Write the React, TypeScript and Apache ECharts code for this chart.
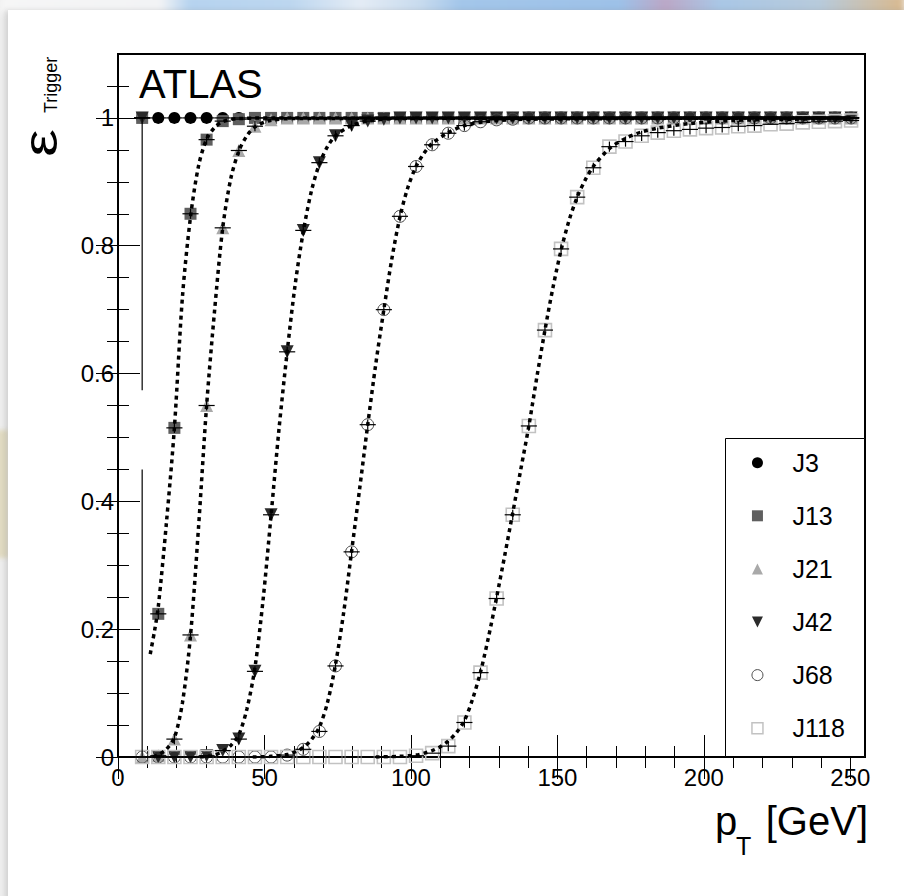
import React, { useEffect, useRef } from "react";
import * as echarts from "echarts";

const FONT = "'Liberation Sans', Arial, Helvetica, sans-serif";

// pT bin centres [GeV]
const binCenters = [
  8.25, 13.75, 19.25, 24.75, 30.25, 35.75, 41.25, 46.75, 52.25, 57.75,
  63.25, 68.75, 74.25, 79.75, 85.25, 90.75, 96.25, 101.75, 107.25, 112.75,
  118.25, 123.75, 129.25, 134.75, 140.25, 145.75, 151.25, 156.75, 162.25, 167.75,
  173.25, 178.75, 184.25, 189.75, 195.25, 200.75, 206.25, 211.75, 217.25, 222.75,
  228.25, 233.75, 239.25, 244.75, 250.25,
];

// trigger efficiency per bin
const effJ3 = [
  1, 1, 1, 1, 1, 1, 1, 1, 1, 1, 1, 1, 1, 1, 1, 1, 1, 1, 1, 1, 1, 1, 1,
  1, 1, 1, 1, 1, 1, 1, 1, 1, 1, 1, 1, 1, 1, 1, 1, 1, 1, 1, 1, 1, 1,
];
const effJ13 = [
  1, 0.224, 0.515, 0.85, 0.966, 0.995, 0.998, 1, 1, 1, 1, 1, 1, 1, 1, 1, 1, 1, 1, 1, 1, 1, 1,
  1, 1, 1, 1, 1, 1, 1, 1, 1, 1, 1, 1, 1, 1, 1, 1, 1, 1, 1, 1, 1, 1,
];
const effJ21 = [
  0, 0.002, 0.028, 0.191, 0.55, 0.828, 0.949, 0.987, 0.997, 1, 1, 1, 1, 1, 1, 1, 1, 1, 1, 1, 1, 1, 1,
  1, 1, 1, 1, 1, 1, 1, 1, 1, 1, 1, 1, 1, 1, 1, 1, 1, 1, 1, 1, 1, 1,
];
const effJ42 = [
  1, 0, 0, 0, 0.002, 0.01, 0.028, 0.134, 0.379, 0.634, 0.824, 0.93, 0.972, 0.988, 0.995, 0.998,
  1, 1, 1, 1, 1, 1, 1, 1, 1, 1, 1, 1, 1, 1, 1, 1, 1, 1, 1, 1, 1, 1, 1, 1, 1, 1, 1, 1, 1,
];
const effJ68 = [
  0, 0, 0, 0, 0, 0, 0, 0, 0, 0.003, 0.012, 0.04, 0.1425, 0.321, 0.52, 0.7, 0.846, 0.924, 0.958,
  0.976, 0.988, 0.994, 0.997, 0.998, 1, 1, 1, 1, 1, 1, 1, 1, 1, 1, 1, 1, 1, 1, 1, 1, 1, 1, 1, 1, 1,
];
const effJ118 = [
  0, 0, 0, 0, 0, 0, 0, 0, 0, 0, 0, 0, 0, 0, 0, 0, 0, 0.002, 0.006, 0.017, 0.054, 0.132, 0.248,
  0.379, 0.518, 0.668, 0.795, 0.876, 0.922, 0.955, 0.963, 0.972, 0.977, 0.98, 0.982, 0.984,
  0.985, 0.987, 0.988, 0.99, 0.991, 0.993, 0.994, 0.995, 0.996,
];

// fitted turn-on curves [pT, efficiency]
const fitJ13 = [
  [11, 0.161], [12.5, 0.198], [13.75, 0.235], [16.5, 0.365], [19.25, 0.515], [22, 0.72],
  [24.75, 0.845], [27.5, 0.925], [30.25, 0.967], [33, 0.985], [35.75, 0.994], [41, 0.999],
  [60, 1], [250, 1],
];
const fitJ21 = [
  [12, 0], [14, 0.004], [16.5, 0.012], [19.25, 0.03], [22, 0.085], [24.75, 0.19], [27.5, 0.36],
  [30.25, 0.55], [33, 0.7], [35.75, 0.828], [38.5, 0.905], [41.25, 0.948], [44, 0.972],
  [46.75, 0.986], [52, 0.996], [60, 0.999], [250, 1],
];
const fitJ42 = [
  [28, 0], [33, 0.003], [35.75, 0.009], [38.5, 0.018], [41.25, 0.035], [44, 0.075],
  [46.75, 0.14], [49.5, 0.245], [52.25, 0.378], [55, 0.515], [57.75, 0.634], [60.5, 0.74],
  [63.25, 0.822], [66, 0.885], [68.75, 0.928], [71.5, 0.955], [74.25, 0.972], [79.75, 0.988],
  [85.25, 0.995], [95, 0.999], [250, 1],
];
const fitJ68 = [
  [46, 0], [52, 0.001], [57.75, 0.004], [60.5, 0.008], [63.25, 0.015], [66, 0.027],
  [68.75, 0.047], [71.5, 0.085], [74.25, 0.145], [77, 0.225], [79.75, 0.322], [82.5, 0.42],
  [85.25, 0.52], [88, 0.615], [90.75, 0.7], [93.5, 0.78], [96.25, 0.845], [99, 0.892],
  [101.75, 0.924], [104.5, 0.945], [107.25, 0.96], [112.75, 0.977], [118.25, 0.988],
  [125, 0.994], [140, 0.998], [250, 1],
];
const fitJ118 = [
  [88, 0], [96, 0.001], [101.75, 0.003], [104.5, 0.006], [107.25, 0.01], [110, 0.016],
  [112.75, 0.025], [115.5, 0.038], [118.25, 0.057], [121, 0.09], [123.75, 0.133],
  [126.5, 0.188], [129.25, 0.25], [132, 0.315], [134.75, 0.382], [137.5, 0.45],
  [140.25, 0.518], [143, 0.595], [145.75, 0.668], [148.5, 0.735], [151.25, 0.793],
  [154, 0.84], [156.75, 0.876], [159.5, 0.903], [162.25, 0.924], [167.75, 0.952],
  [173.25, 0.968], [178.75, 0.978], [184.25, 0.984], [195, 0.991], [210, 0.996],
  [230, 0.998], [250, 0.999],
];

// low-statistics first bins with large uncertainties
const wideErrorBars = [
  { series: "J13", bin: 0, low: 0.574, high: 1.0 },
  { series: "J21", bin: 0, low: 0.0, high: 0.45 },
];

// axis ticks
const xMajorTicks = [0, 50, 100, 150, 200, 250];
const xMinorTicks = [
  10, 20, 30, 40, 60, 70, 80, 90, 110, 120, 130, 140, 160, 170, 180, 190, 210, 220, 230, 240,
];
const yMajorTicks = [0, 0.2, 0.4, 0.6, 0.8, 1];
const yMinorTicks = [
  0.05, 0.1, 0.15, 0.25, 0.3, 0.35, 0.45, 0.5, 0.55, 0.65, 0.7, 0.75, 0.85, 0.9, 0.95, 1.05,
];

const X_MIN = 0;
const X_MAX = 255;
const Y_MIN = 0;
const Y_MAX = 1.1;
const HALF_BIN = 2.75;
const STAT_ERR = 0.008;

// marker outlines; drawn as paths so the legend keeps their aspect ratio
const SQUARE = "path://M0,0L10,0L10,10L0,10Z";
const UP_TRIANGLE = "path://M5,0L10,10L0,10Z";
const DOWN_TRIANGLE = "path://M0,0L10,0L5,10Z";
const CLEAR = "rgba(255,255,255,0)";

const samples = [
  { name: "J3", eff: effJ3, fit: null, symbol: "circle", size: 12, fill: "#000000", border: null, bw: 0 },
  { name: "J13", eff: effJ13, fit: fitJ13, symbol: SQUARE, size: 12, fill: "#5f5f5f", border: null, bw: 0 },
  { name: "J21", eff: effJ21, fit: fitJ21, symbol: UP_TRIANGLE, size: 13, fill: "#a9a9a9", border: null, bw: 0 },
  { name: "J42", eff: effJ42, fit: fitJ42, symbol: DOWN_TRIANGLE, size: 13, fill: "#2b2b2b", border: null, bw: 0 },
  { name: "J68", eff: effJ68, fit: fitJ68, symbol: "circle", size: 12, fill: CLEAR, border: "#4a4a4a", bw: 1 },
  { name: "J118", eff: effJ118, fit: fitJ118, symbol: SQUARE, size: 13, fill: CLEAR, border: "#c2c2c2", bw: 1.6 },
];

function tickAxis(dim: "x" | "y", position: string, ticks: number[], length: number, labels: number[] | null) {
  const isX = dim === "x";
  return {
    type: "value",
    position,
    min: isX ? X_MIN : Y_MIN,
    max: isX ? X_MAX : Y_MAX,
    interval: isX ? 50 : 0.2,
    axisLine: { show: false },
    splitLine: { show: false },
    axisTick: {
      show: true,
      inside: true,
      length,
      customValues: ticks,
      lineStyle: { color: "#000", width: 1 },
    },
    axisLabel: labels
      ? {
          show: true,
          customValues: labels,
          margin: isX ? 8 : 4,
          color: "#000",
          fontSize: 24,
          fontFamily: FONT,
          formatter: (v: number) => String(v),
        }
      : { show: false },
  };
}

function buildOption() {
  const errorRows: number[][] = [];
  samples.forEach((s) => {
    s.eff.forEach((y, i) => {
      const e = y > 0.01 && y < 0.99 ? STAT_ERR : 0;
      let lo = y - e;
      let hi = Math.min(1, y + e);
      wideErrorBars.forEach((w) => {
        if (w.series === s.name && w.bin === i) {
          lo = w.low;
          hi = w.high;
        }
      });
      errorRows.push([binCenters[i], y, lo, hi]);
    });
  });

  const scatterSeries = samples.map((s) => ({
    name: s.name,
    type: "scatter",
    data: binCenters.map((x, i) => [x, s.eff[i]]),
    symbol: s.symbol,
    symbolSize: s.size,
    itemStyle: {
      color: s.fill,
      borderColor: s.border || s.fill,
      borderWidth: s.bw,
      opacity: 1,
    },
    emphasis: { disabled: true },
    z: 2,
  }));

  const fitSeries = samples
    .filter((s) => s.fit)
    .map((s) => ({
      name: s.name + " fit",
      type: "line",
      data: s.fit,
      showSymbol: false,
      smooth: 0.3,
      lineStyle: { color: "#000", width: 3.5, type: [4, 4] },
      emphasis: { disabled: true },
      z: 4,
    }));

  const errorSeries = {
    name: "errors",
    type: "custom",
    data: errorRows,
    encode: { x: 0, y: 1 },
    z: 3,
    renderItem: (_params: any, api: any) => {
      const x = api.value(0);
      const y = api.value(1);
      const lo = api.value(2);
      const hi = api.value(3);
      const a = api.coord([x - HALF_BIN, y]);
      const b = api.coord([x + HALF_BIN, y]);
      const style = { stroke: "#000", lineWidth: 1.2 };
      const children: any[] = [
        { type: "line", shape: { x1: a[0], y1: a[1], x2: b[0], y2: b[1] }, style },
      ];
      if (hi > lo) {
        const t = api.coord([x, hi]);
        const d = api.coord([x, lo]);
        children.push({ type: "line", shape: { x1: t[0], y1: t[1], x2: d[0], y2: d[1] }, style });
      }
      return { type: "group", children };
    },
  };

  const text = (
    t: string,
    x: number,
    y: number,
    size: number,
    align: string,
    rotation = 0,
    stretch = 1
  ) => ({
    type: "text",
    x,
    y,
    rotation,
    scaleX: stretch,
    z: 20,
    style: {
      text: t,
      fontSize: size,
      fontFamily: FONT,
      fill: "#000",
      textAlign: align,
      align,
      textVerticalAlign: "middle",
      verticalAlign: "middle",
    },
  });

  return {
    animation: false,
    backgroundColor: "transparent",
    grid: {
      left: 118,
      top: 54,
      width: 747,
      height: 703,
      show: true,
      borderColor: "#000",
      borderWidth: 2,
      backgroundColor: "transparent",
    },
    xAxis: [
      tickAxis("x", "bottom", xMajorTicks, 22, xMajorTicks),
      tickAxis("x", "bottom", xMinorTicks, 11, null),
      tickAxis("x", "top", xMajorTicks, 22, null),
      tickAxis("x", "top", xMinorTicks, 11, null),
    ],
    yAxis: [
      tickAxis("y", "left", yMajorTicks, 22, yMajorTicks),
      tickAxis("y", "left", yMinorTicks, 11, null),
      tickAxis("y", "right", yMajorTicks, 22, null),
      tickAxis("y", "right", yMinorTicks, 11, null),
    ],
    legend: {
      orient: "vertical",
      left: 751.2,
      top: 447.7,
      padding: 0,
      itemWidth: 60,
      itemHeight: 11,
      itemGap: 23.1,
      selectedMode: false,
      z: 11,
      textStyle: { fontSize: 25, lineHeight: 30, fontFamily: FONT, color: "#000" },
      data: [
        { name: "J3" },
        { name: "J13", itemStyle: { borderWidth: 0 } },
        { name: "J21", itemStyle: { borderWidth: 0 } },
        { name: "J42", itemStyle: { borderWidth: 0 } },
        { name: "J68", itemStyle: { borderWidth: 1 } },
        { name: "J118", itemStyle: { borderWidth: 1.5 } },
      ],
    },
    graphic: [
      {
        type: "rect",
        z: 10,
        shape: { x: 725.5, y: 438.5, width: 139, height: 318 },
        style: { fill: "#fff", stroke: "#000", lineWidth: 1 },
      },
      text("ATLAS", 139, 84, 40, "left"),
      text("\u03b5", 41, 157, 48, "left", Math.PI / 2, 1.3),
      text("Trigger", 51, 113, 18, "left", Math.PI / 2),
      text("p", 715, 821, 40, "left"),
      text("T", 736, 846, 25, "left"),
      text("[GeV]", 868, 821, 40, "right"),
    ],
    series: [...scatterSeries, errorSeries, ...fitSeries],
  };
}

const TOP_BAND =
  "linear-gradient(to right, #f6f6f6 0px, #f2f3f5 160px, #b6d3ef 190px, #bcd6ef 290px, #e4ecf5 360px, #c8dbee 420px, #a3c6ea 460px, #9dc1e8 620px, #bba7c6 665px, #a9c7e6 720px, #b7cadb 820px, #d9b98e 904px)";

export default function App() {
  const ref = useRef<HTMLDivElement>(null);
  useEffect(() => {
    if (!ref.current) return;
    const chart = echarts.init(ref.current, null, { renderer: "svg" });
    chart.setOption(buildOption() as any);
    return () => chart.dispose();
  }, []);
  return (
    <div
      style={{
        position: "absolute",
        left: 0,
        top: 0,
        width: 904,
        height: 896,
        overflow: "hidden",
        background: "#eeeeee",
      }}
    >
      <div
        style={{
          position: "absolute",
          left: 0,
          top: -6,
          width: 904,
          height: 20,
          background: TOP_BAND,
          filter: "blur(3px)",
        }}
      />
      <div
        style={{
          position: "absolute",
          left: -4,
          top: 430,
          width: 12,
          height: 128,
          background: "#e1dbc2",
          filter: "blur(2px)",
        }}
      />
      <div
        style={{
          position: "absolute",
          left: 8,
          top: 10,
          width: 900,
          height: 890,
          background: "#ffffff",
          boxShadow: "-3px 0 5px rgba(0,0,0,0.12)",
        }}
      />
      <div ref={ref} style={{ position: "absolute", left: 0, top: 0, width: 904, height: 896 }} />
    </div>
  );
}
